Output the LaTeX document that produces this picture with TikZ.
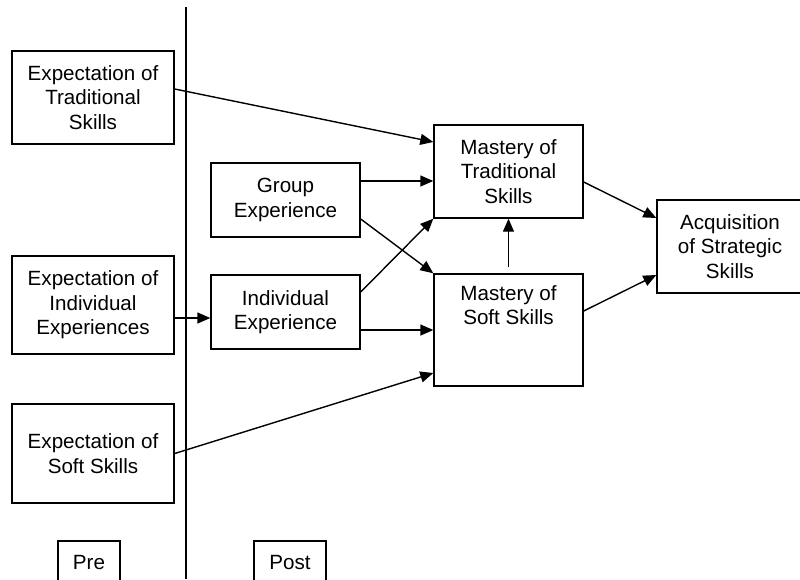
\documentclass[tikz,border=0pt]{standalone}
\usepackage{fontspec}
\setmainfont{Liberation Sans}
\usetikzlibrary{calc,positioning,arrows.meta}

\begin{document}
\begin{tikzpicture}[x=1pt, y=-1pt, line width=1.4pt,
                    >={Triangle[length=13pt,width=11pt]}]
\tikzstyle{every node}=[rectangle, draw, align=center, inner sep=0pt,
                        font=\fontsize{20.6}{24.5}\selectfont]
\tikzstyle{expbox}=[minimum width=162pt]
\tikzstyle{midbox}=[minimum width=149pt, minimum height=74pt]
\useasboundingbox (0,0) rectangle (800,579);
% pre / post divider
\coordinate (top) at (186,7);
\coordinate (bot) at (186,579);
\draw (top) -- (bot);
\node[expbox, minimum height=93pt] (ET) at (93,97.5) {Expectation of\\Traditional\\Skills};
\node[expbox, minimum height=98pt] (EI) at (93,305) {Expectation of\\Individual\\Experiences};
\node[expbox, minimum height=99pt] (ES) at (93,453.5) {Expectation of\\Soft Skills};
\node[midbox] (GE) at (285.5,200) {Group\\Experience};
\node[midbox] (IE) at (285.5,312) {Individual\\Experience};
\node[minimum width=149pt, minimum height=93pt] (MT) at (508.5,171.5) {Mastery of\\Traditional\\Skills};
\node[minimum width=149pt, minimum height=112pt] (MS) at (508.5,330) {};
\node[draw=none] (MSlabel) at (508.5,305) {Mastery of\\Soft Skills};
\node[minimum width=146pt, minimum height=93pt] (AS) at (730,246.5) {Acquisition\\of Strategic\\Skills};
\node[minimum width=62pt, minimum height=44pt] (Pre) at (89,563) {Pre};
\node[minimum width=72pt, minimum height=44pt] (Post) at (290,563) {Post};
\draw[->] ($(ET.east)+(0,-8.5)$) -- ($(MT.west)+(0,-29.5)$);
\draw[->] ($(EI.east)+(0,13)$) -- ($(IE.west)+(0,6)$);
\draw[->] (ES.east) -- ($(MS.west)+(0,43)$);
\draw[->] ($(GE.east)+(0,-19)$) -- ($(MT.west)+(0,9.5)$);
\draw[->] ($(GE.east)+(0,19)$) -- (MS.north west);
\draw[->] ($(IE.east)+(0,-20)$) -- (MT.south west);
\draw[->] ($(IE.east)+(0,18)$) -- (MS.west);
\draw[->, shorten <=6pt] (MS.north) -- (MT.south);
\draw[->] ($(MT.east)+(0,10.5)$) -- ($(AS.west)+(0,-28.5)$);
\draw[->] ($(MS.east)+(0,-19)$) -- ($(AS.west)+(0,28.5)$);
\end{tikzpicture}
\end{document}
